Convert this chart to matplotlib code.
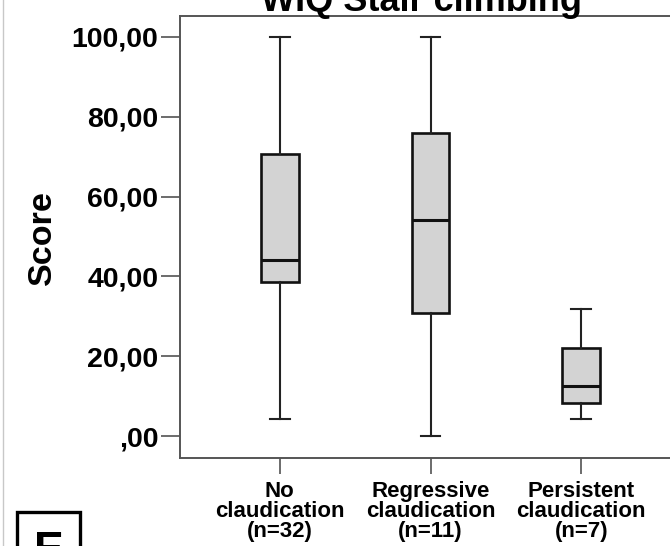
import matplotlib
matplotlib.use("Agg")
import matplotlib.pyplot as plt
from matplotlib.patches import Rectangle
from matplotlib.lines import Line2D

categories = ["No\nclaudication\n(n=32)", "Regressive\nclaudication\n(n=11)", "Persistent\nclaudication\n(n=7)"]
whisker_low = [4.2, 0.0, 4.3]
q1 = [38.7, 30.8, 8.3]
median = [44.0, 54.2, 12.5]
q3 = [70.6, 75.9, 22.1]
whisker_high = [100.0, 100.0, 31.8]
ytick_values = [0, 20, 40, 60, 80, 100]
ytick_labels = [",00", "20,00", "40,00", "60,00", "80,00", "100,00"]
title = "WIQ Stair climbing"
ylabel = "Score"

plt.rcParams['font.family'] = ['Liberation Sans', 'DejaVu Sans']

W, H = 670, 546
fig = plt.figure(figsize=(W/100, H/100), dpi=100)
ax = fig.add_axes([180/W, (H-458)/H, (681-180)/W, (458-16)/H])

stats = []
for i in range(len(categories)):
    stats.append(dict(whislo=whisker_low[i], q1=q1[i], med=median[i], q3=q3[i],
                      whishi=whisker_high[i], fliers=[], label=categories[i]))

positions = list(range(1, len(categories)+1))
ax.bxp(stats, positions=positions, widths=0.25, capwidths=0.13, patch_artist=True,
       showfliers=False,
       boxprops=dict(facecolor='#d3d3d3', edgecolor='#111111', linewidth=1.9),
       medianprops=dict(color='#111111', linewidth=2.2),
       whiskerprops=dict(color='#222222', linewidth=1.5),
       capprops=dict(color='#222222', linewidth=1.5))

ax.set_xlim(0.338, 3.662)
ax.set_ylim(-5.51, 105.26)

ax.set_yticks(ytick_values)
ax.set_yticklabels(ytick_labels, fontsize=20.5, fontweight='bold')
ax.set_xticks(positions)
ax.set_xticklabels(categories, fontsize=16, fontweight='bold', linespacing=0.95)

for s in ax.spines.values():
    s.set_color('#555555')
    s.set_linewidth(1.4)

ax.tick_params(axis='y', length=13.5, width=1.1, color='#444444', pad=2)
ax.tick_params(axis='x', length=11.5, width=1.1, color='#444444', pad=5)

fig.text(422/W, 1-11/H, title, fontsize=26, fontweight='bold', ha='center', va='baseline')
fig.text(42/W, 1-238/H, ylabel, fontsize=24.5, fontweight='bold', rotation=90, ha='center', va='center')

# outer panel line at left
fig.add_artist(Line2D([3/W, 3/W], [0, 1], transform=fig.transFigure, color='#c8c8c8', linewidth=1.0))
# panel label box
fig.add_artist(Rectangle((17/W, -0.05), (80-17)/W, (H-512)/H + 0.05, transform=fig.transFigure,
                         fill=False, edgecolor='black', linewidth=2.4))
fig.text(34/W, 1-531/H, "E", fontsize=32, fontweight='bold', ha='left', va='top')

fig.savefig("out.png", dpi=100)
